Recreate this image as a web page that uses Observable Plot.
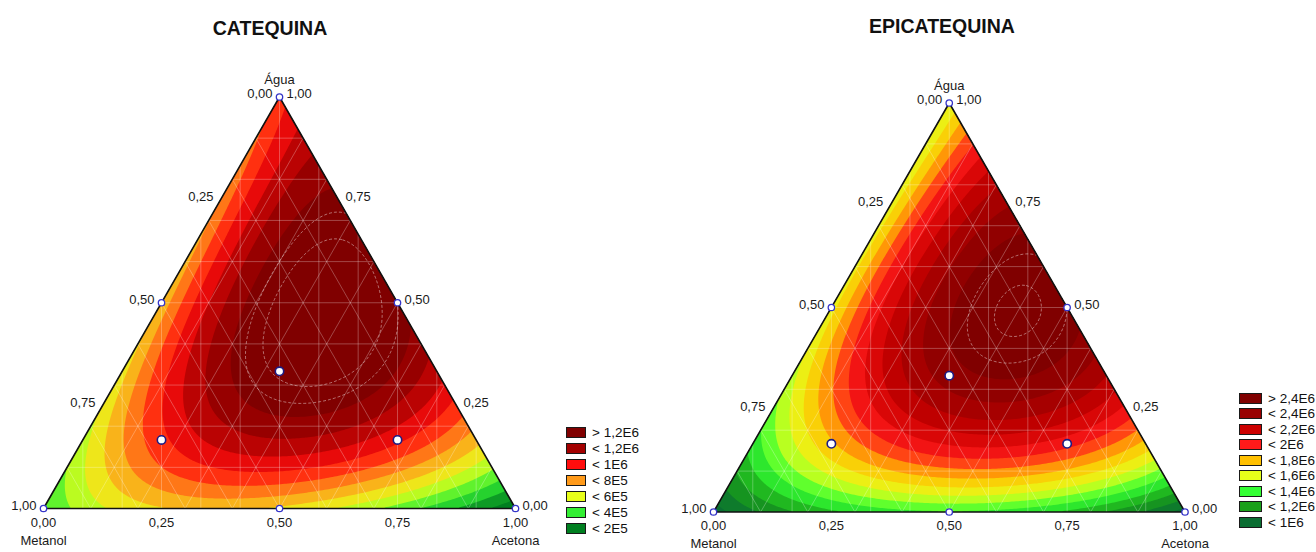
<!DOCTYPE html>
<html>
<head>
<meta charset="utf-8">
<script src="https://cdn.jsdelivr.net/npm/d3@7"></script>
<script src="https://cdn.jsdelivr.net/npm/@observablehq/plot@0.6"></script>
<style>
  body { margin: 0; background: #fff; overflow: hidden; width: 1316px; height: 552px;
         font-family: "Liberation Sans", Arial, sans-serif; }
  #root { position: relative; width: 1316px; height: 552px; overflow: hidden; }
  .panel { position: absolute; top: 0; }
  .title { position: absolute; font-weight: bold; font-size: 19.5px; color: #111;
           transform: translateX(-50%); white-space: nowrap; line-height: 22px; }
  .legend { position: absolute; font-size: 13.5px; color: #111; }
  .legend .row { display: flex; align-items: center; white-space: nowrap; }
  .legend .sw { height: 11px; border: 1px solid #1a1a1a; box-sizing: border-box; margin-right: 6px; flex: none; }
</style>
</head>
<body>
<div id="root"></div>
<script>
// Mixture components (ternary axes)
const componentNames = ["Água", "Metanol", "Acetona"];
const tickValues = [0, 0.25, 0.5, 0.75, 1];

// Experimental design points (fractions of Água, Metanol, Acetona)
const designAgua    = [1, 0, 0, 0.5, 0.5, 0,   1/3, 1/6, 1/6];
const designMetanol = [0, 1, 0, 0.5, 0,   0.5, 1/3, 2/3, 1/6];
const designAcetona = [0, 0, 1, 0,   0.5, 0.5, 1/3, 1/6, 2/3];

// Fitted mixture models: linear (A, M, C), binary (AM, AC, MC),
// cubic difference terms (AM, AC, MC) and ternary term AMC
const catequinaLinear  = [8.5e5, 3.0e5, 0.2e5];
const catequinaBinary  = [2.0e5, 3.26e6, 1.68e6];
const catequinaCubic   = [-4.0e5, -3.0e5, 5.0e5];
const catequinaTernary = 9.5e6;

const epicatequinaLinear  = [1.5e6, 0.85e6, 0.85e6];
const epicatequinaBinary  = [1.5e6, 5.1e6, 1.75e6];
const epicatequinaCubic   = [-8.0e5, 0, 0];
const epicatequinaTernary = 9.5e6;

// Legend levels (upper bounds) and labels, highest first
const catequinaLevels = [1.2e6, 1.2e6, 1.0e6, 8e5, 6e5, 4e5, 2e5];
const catequinaLabels = ["> 1,2E6", "< 1,2E6", "< 1E6", "< 8E5", "< 6E5", "< 4E5", "< 2E5"];
const epicatequinaLevels = [2.4e6, 2.4e6, 2.2e6, 2.0e6, 1.8e6, 1.6e6, 1.4e6, 1.2e6, 1.0e6];
const epicatequinaLabels = ["> 2,4E6", "< 2,4E6", "< 2,2E6", "< 2E6", "< 1,8E6", "< 1,6E6", "< 1,4E6", "< 1,2E6", "< 1E6"];

// Swatch colours, highest first
const catequinaColors = ["#800000", "#a30000", "#ff0d0d", "#ff9a1a", "#e8ff1a", "#33ee33", "#007f20"];
const epicatequinaColors = ["#800000", "#990000", "#cc0000", "#ff1a1a", "#ffc000", "#e6ff1a", "#33ff33", "#1aa01a", "#0a6e32"];

const FONT = `"Liberation Sans", Arial, sans-serif`;
const fmt = v => d3.format(".2f")(v).replace(".", ",");
const pos = (a, m, c) => ({x: c + a / 2, y: a});

function surface(lin, bin, cub, ter) {
  return (x, y) => {
    const A = y, C = x - y / 2, M = 1 - A - C;
    return lin[0] * A + lin[1] * M + lin[2] * C
      + A * M * (bin[0] + cub[0] * (A - M))
      + A * C * (bin[1] + cub[1] * (A - C))
      + M * C * (bin[2] + cub[2] * (M - C))
      + ter * A * M * C;
  };
}

function drawPanel(cfg) {
  const f = surface(cfg.linear, cfg.binary, cfg.cubic, cfg.ternary);
  const step = (cfg.levels[1] - cfg.levels[2]) / 2;        // two fine bands per legend class
  const lo = cfg.levels[cfg.levels.length - 1] - 2 * step;
  const hi = cfg.levels[0] + 2 * step;
  const thresholds = d3.range(lo - 2 * step, hi + step / 2, step);
  // band colours: legend colours placed at class centres, blended for the fine bands
  const centers = cfg.levels.map((L, i) => i === 0 ? L + 0.5 * step : L - step).reverse();
  const blend = d3.scaleLinear(centers, cfg.colors.slice().reverse())
    .interpolate(d3.interpolateRgb).clamp(true);
  const bandColors = thresholds.map(t => blend(t + step / 2));

  const corners = [pos(1, 0, 0), pos(0, 1, 0), pos(0, 0, 1), pos(1, 0, 0)];

  // mesh of the rendered surface
  const fr = d3.range(1, 10).map(i => i / 10);
  const mesh = [];
  fr.forEach(t => {
    mesh.push([pos(t, 1 - t, 0), pos(t, 0, 1 - t)]);          // constant Água
    mesh.push([pos(0, 1 - t, t), pos(1 - t, 0, t)]);          // constant Acetona
    mesh.push([pos(0, t, 1 - t), pos(1 - t, t, 0)]);          // constant Metanol
  });
  d3.range(1, 12).map(i => i / 12).forEach(g => {
    mesh.push([{x: g, y: 0}, {x: g, y: 2 * Math.min(g, 1 - g)}]);
  });

  const design = designAgua.map((a, i) => ({...pos(a, designMetanol[i], designAcetona[i]),
    interior: a > 0 && designMetanol[i] > 0 && designAcetona[i] > 0}));

  const left = tickValues.map(t => ({...pos(1 - t, t, 0), label: fmt(t)}));
  const right = tickValues.map(t => ({...pos(t, 0, 1 - t), label: fmt(t)}));
  const bottom = tickValues.map(t => ({...pos(0, 1 - t, t), label: fmt(t)}));

  const plot = Plot.plot({
    width: 658, height: 552, margin: 0,
    x: {domain: [0, 1], range: cfg.xRange, axis: null},
    y: {domain: [0, 1], range: cfg.yRange, axis: null},
    color: {type: "threshold", domain: thresholds.slice(1), range: bandColors},
    style: {fontFamily: FONT, fontSize: "13px", color: "#1a1a1a", background: "transparent", overflow: "visible"},
    marks: [
      Plot.contour({x1: 0, y1: 0, x2: 1, y2: 1, fill: f, thresholds, stroke: "none", className: "surf"}),
      Plot.link(mesh, {x1: d => d[0].x, y1: d => d[0].y, x2: d => d[1].x, y2: d => d[1].y,
        stroke: "white", strokeOpacity: 0.35, strokeWidth: 0.8, className: "surf"}),
      Plot.contour({x1: 0, y1: 0, x2: 1, y2: 1, value: f, thresholds: cfg.dashed, fill: "none",
        stroke: "white", strokeOpacity: 0.55, strokeWidth: 0.8, strokeDasharray: "3,2", className: "surf"}),
      Plot.line(corners, {x: "x", y: "y", stroke: "#111", strokeWidth: 1.6}),
      Plot.dot(design.filter(d => !d.interior), {x: "x", y: "y", r: 3.2, fill: "white", stroke: "#3434c8", strokeWidth: 1.3}),
      Plot.dot(design.filter(d => d.interior), {x: "x", y: "y", r: 4.2, fill: "white", stroke: "#1c1c84", strokeWidth: 1.6}),
      Plot.text(left, {x: "x", y: "y", text: "label", textAnchor: "end", dx: -7, dy: -3, fill: "#1a1a1a"}),
      Plot.text(right, {x: "x", y: "y", text: "label", textAnchor: "start", dx: 7, dy: -3, fill: "#1a1a1a"}),
      Plot.text(bottom, {x: "x", y: "y", text: "label", dy: 14, fill: "#1a1a1a"}),
      Plot.text([pos(1, 0, 0)], {x: "x", y: "y", text: [componentNames[0]], dy: -17, fill: "#1a1a1a"}),
      Plot.text([pos(0, 1, 0)], {x: "x", y: "y", text: [componentNames[1]], dy: 32, fill: "#1a1a1a"}),
      Plot.text([pos(0, 0, 1)], {x: "x", y: "y", text: [componentNames[2]], dy: 32, fill: "#1a1a1a"})
    ]
  });

  // clip the surface to the simplex
  const sx = plot.scale("x"), sy = plot.scale("y");
  const id = "clip-" + cfg.key;
  const d = "M" + corners.slice(0, 3).map(p => `${sx.apply(p.x)},${sy.apply(p.y)}`).join("L") + "Z";
  const svg = d3.select(plot);
  svg.insert("defs", ":first-child").append("clipPath").attr("id", id).append("path").attr("d", d);
  svg.selectAll(".surf").attr("clip-path", `url(#${id})`);

  const panel = document.createElement("div");
  panel.className = "panel";
  panel.style.left = cfg.offset + "px";
  panel.appendChild(plot);
  root.appendChild(panel);

  const title = document.createElement("div");
  title.className = "title";
  title.textContent = cfg.title;
  title.style.left = cfg.titleX + "px";
  title.style.top = cfg.titleY + "px";
  root.appendChild(title);

  const legend = document.createElement("div");
  legend.className = "legend";
  legend.style.left = cfg.legendX + "px";
  legend.style.top = cfg.legendY + "px";
  cfg.labels.forEach((lab, i) => {
    const row = document.createElement("div");
    row.className = "row";
    row.style.height = cfg.legendPitch + "px";
    const sw = document.createElement("div");
    sw.className = "sw";
    sw.style.width = cfg.swatchW + "px";
    sw.style.background = cfg.colors[i];
    row.appendChild(sw);
    row.appendChild(document.createTextNode(lab));
    legend.appendChild(row);
  });
  root.appendChild(legend);
}

const root = document.getElementById("root");

drawPanel({
  key: "cat", title: "CATEQUINA", offset: 0, titleX: 270, titleY: 17,
  xRange: [43, 515], yRange: [508, 96.5],
  linear: catequinaLinear, binary: catequinaBinary, cubic: catequinaCubic, ternary: catequinaTernary,
  levels: catequinaLevels, labels: catequinaLabels, colors: catequinaColors,
  dashed: [1.25e6, 1.3e6],
  legendX: 566, legendY: 424.5, legendPitch: 16, swatchW: 20
});

drawPanel({
  key: "epi", title: "EPICATEQUINA", offset: 658, titleX: 942, titleY: 15,
  xRange: [713 - 658, 1184.5 - 658], yRange: [511.5, 102.5],
  linear: epicatequinaLinear, binary: epicatequinaBinary, cubic: epicatequinaCubic, ternary: epicatequinaTernary,
  levels: epicatequinaLevels, labels: epicatequinaLabels, colors: epicatequinaColors,
  dashed: [2.45e6, 2.5e6],
  legendX: 1239, legendY: 390.5, legendPitch: 15.5, swatchW: 23
});
</script>
</body>
</html>
